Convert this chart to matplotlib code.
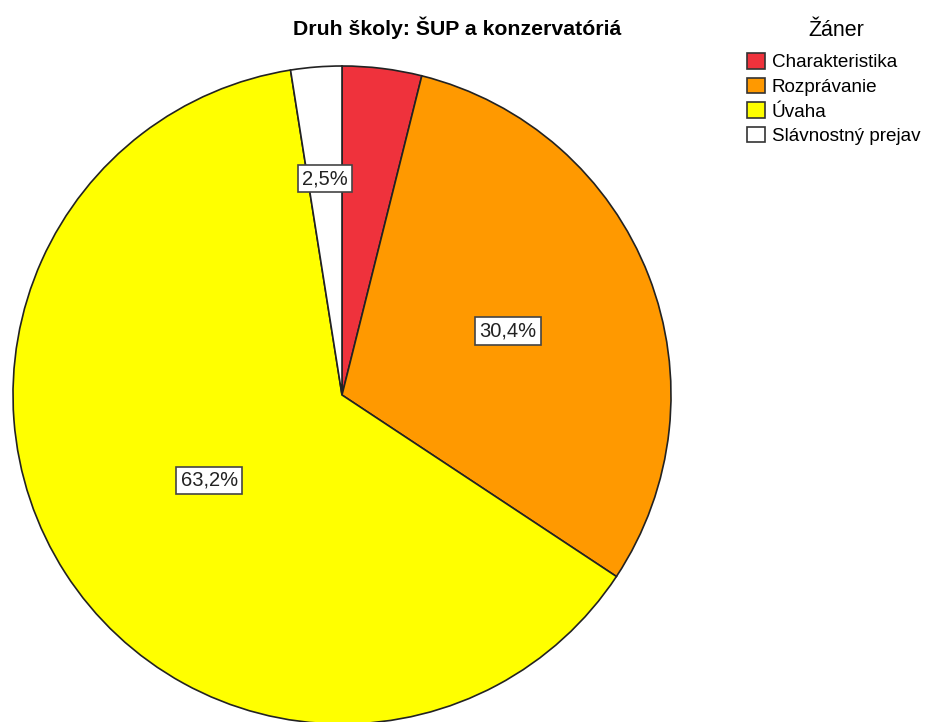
import numpy as np
import matplotlib
matplotlib.use("Agg")
import matplotlib.pyplot as plt
from matplotlib.patches import Patch

plt.rcParams['font.family'] = ['Liberation Sans', 'DejaVu Sans']

categories = ["Charakteristika", "Rozprávanie", "Úvaha", "Slávnostný prejav"]
values = [3.9, 30.4, 63.2, 2.5]
labels = ["", "30,4%", "63,2%", "2,5%"]
colors = ["#EF323C", "#FF9900", "#FFFF00", "#FFFFFF"]
label_radius = [0.6, 0.54, 0.48, 0.66]
title = "Druh školy: ŠUP a konzervatóriá"
legend_title = "Žáner"

fig = plt.figure(figsize=(9.26, 7.22), dpi=100)
ax = fig.add_axes([13/926, (722-724)/722, 658/926, 658/722])
wedges, _ = ax.pie(values, colors=colors, startangle=90, counterclock=False,
                   wedgeprops=dict(edgecolor="#222222", linewidth=1.2))
ax.set_xlim(-1, 1)
ax.set_ylim(-1, 1)
ax.set_aspect("equal")
ax.axis("off")

for w, lab, r in zip(wedges, labels, label_radius):
    if not lab:
        continue
    ang = np.deg2rad((w.theta1 + w.theta2) / 2)
    ax.text(r * np.cos(ang), r * np.sin(ang), lab, ha="center", va="center",
            fontsize=14.5, color="#222222",
            bbox=dict(boxstyle="square,pad=0.22", facecolor="white",
                      edgecolor="#444444", linewidth=1.2))

fig.text(457/926, 1 - 28/722, title, ha="center", va="center",
         fontsize=15.3, fontweight="bold")

fig.text(836/926, 1 - 31/722, legend_title, ha="center", va="center",
         fontsize=15.5)

handles = [Patch(facecolor=c, edgecolor="#333333", linewidth=1.2) for c in colors]
leg = fig.legend(handles, categories, loc="upper left",
                 bbox_to_anchor=(747/926, 1 - 53/722), frameon=False,
                 fontsize=13.6, handlelength=0.95,
                 handleheight=0.9, handletextpad=0.37, labelspacing=0.33,
                 borderaxespad=0, borderpad=0)

fig.savefig("out.png", dpi=100)
